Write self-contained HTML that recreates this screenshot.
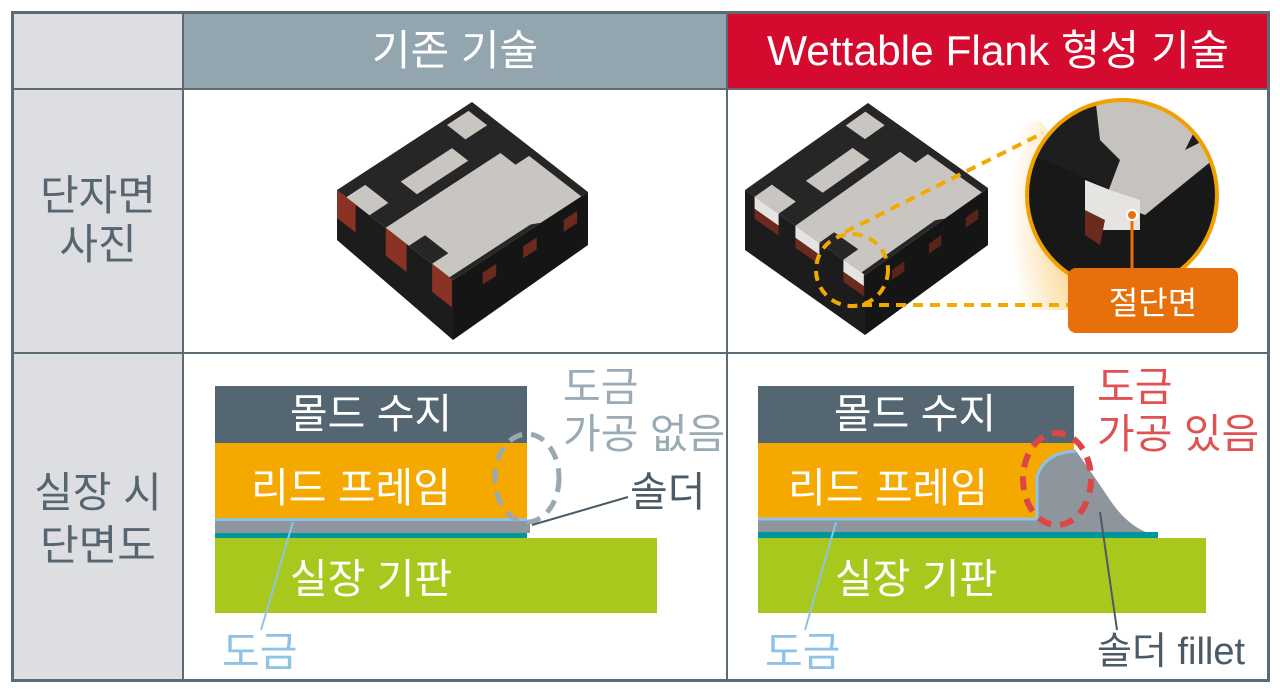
<!DOCTYPE html>
<html><head><meta charset="utf-8"><style>
body{margin:0;background:#fff;}
svg{display:block;}
text{font-family:"Liberation Sans","Noto Sans CJK KR",sans-serif;}
</style></head><body>
<svg width="1280" height="696" viewBox="0 0 1280 696">
<defs>
<radialGradient id="glow" cx="1" cy="0.5" r="1">
<stop offset="0" stop-color="#f5a300" stop-opacity="0.9"/>
<stop offset="1" stop-color="#f5a300" stop-opacity="0"/>
</radialGradient>
<clipPath id="cc"><circle cx="1122" cy="195" r="95"/></clipPath>
</defs>
<rect x="13" y="13" width="170" height="667" fill="#dcdee1"/>
<rect x="183" y="13" width="544" height="76" fill="#93a6b0"/>
<rect x="727" y="13" width="541" height="76" fill="#d40b2f"/>
<g stroke="#5a6b76" fill="none">
<rect x="12.5" y="12.5" width="1256" height="668" stroke-width="3"/>
<line x1="183" y1="13" x2="183" y2="680" stroke-width="2"/>
<line x1="727" y1="13" x2="727" y2="680" stroke-width="2"/>
<line x1="13" y1="89" x2="1268" y2="89" stroke-width="2"/>
<line x1="13" y1="353" x2="1268" y2="353" stroke-width="2"/>
</g>
<text x="455" y="65" font-size="42" fill="#fff" text-anchor="middle">기존 기술</text>
<text x="998" y="65" font-size="42" fill="#fff" text-anchor="middle" textLength="462" lengthAdjust="spacingAndGlyphs">Wettable Flank 형성 기술</text>
<g font-size="42" fill="#566570" text-anchor="middle">
<text x="98" y="210">단자면</text><text x="98" y="259">사진</text>
<text x="98" y="507">실장 시</text><text x="98" y="560">단면도</text>
</g>

<!-- left chip -->
<polygon points="337,190 453,280 453,340 337,240" fill="#1c1c1c"/>
<polygon points="453,280 588,192 588,245 453,340" fill="#151515"/>
<polygon points="337,190 472,102 588,192 453,280" fill="#262626"/>
<g transform="matrix(116 90 135 -88 337 190)" fill="#c9c6c1">
<polygon points="0.42,0 0.62,0 0.62,0.12 0.82,0.12 0.82,0 0.97,0 0.97,0.6 1,0.65 1,0.95 0.55,0.95 0.55,0.85 0.42,0.85"/>
<rect x="0.08" y="0" width="0.2" height="0.14"/>
<rect x="0.2" y="0.3" width="0.14" height="0.38"/>
<rect x="0.04" y="0.78" width="0.16" height="0.16"/>
</g>
<g transform="matrix(116 90 0 1 337 190)" fill="#8a3324">
<rect x="0.0" y="0" width="0.16" height="28"/>
<rect x="0.42" y="0" width="0.18" height="28"/>
<rect x="0.82" y="0" width="0.17" height="28"/>
</g>
<g transform="matrix(135 -88 0 1 453 280)" fill="#6a2a1e">
<rect x="0.22" y="12" width="0.1" height="12"/>
<rect x="0.52" y="12" width="0.1" height="12"/>
<rect x="0.82" y="12" width="0.1" height="12"/>
</g>

<!-- right chip -->
<polygon points="1010,130 1040,120 1100,200 1075,310 1010,310" fill="url(#glow)" opacity="0.8"/>
<polygon points="745,190 865,275 865,335 745,250" fill="#1c1c1c"/>
<polygon points="865,275 988,188 988,245 865,335" fill="#151515"/>
<polygon points="745,190 868,103 988,188 865,275" fill="#262626"/>
<g transform="matrix(120 85 123 -87 745 190)" fill="#c9c6c1">
<polygon points="0.42,0 0.62,0 0.62,0.12 0.82,0.12 0.82,0 0.97,0 0.97,0.6 1,0.65 1,0.95 0.55,0.95 0.55,0.85 0.42,0.85"/>
<rect x="0.08" y="0" width="0.2" height="0.14"/>
<rect x="0.2" y="0.3" width="0.14" height="0.38"/>
<rect x="0.04" y="0.78" width="0.16" height="0.16"/>
</g>
<g transform="matrix(120 85 0 1 745 190)">
<g fill="#e6e4e0"><rect x="0.08" y="0" width="0.2" height="12"/><rect x="0.42" y="0" width="0.2" height="12"/><rect x="0.82" y="0" width="0.17" height="12"/></g>
<g fill="#6a2a1e"><rect x="0.08" y="12" width="0.2" height="10"/><rect x="0.42" y="12" width="0.2" height="10"/><rect x="0.82" y="12" width="0.17" height="10"/></g>
</g>
<g transform="matrix(123 -87 0 1 865 275)" fill="#5a241a">
<rect x="0.22" y="14" width="0.1" height="10"/><rect x="0.52" y="14" width="0.1" height="10"/><rect x="0.82" y="14" width="0.1" height="10"/>
</g>
<g stroke="#f2a900" stroke-width="4" fill="none" stroke-dasharray="10,7">
<ellipse cx="852" cy="270" rx="36" ry="36"/>
<line x1="845" y1="232" x2="1043" y2="133"/>
<line x1="862" y1="305" x2="1075" y2="305"/>
</g>
<g clip-path="url(#cc)">
<rect x="1020" y="95" width="210" height="200" fill="#1e1e1e"/>
<polygon points="1020,150 1080,175 1150,210 1230,150 1230,300 1020,300" fill="#181818"/>
<polygon points="1095,95 1160,95 1200,120 1185,150 1215,135 1225,150 1145,215 1105,200 1120,160 1100,140" fill="#c6c3be"/>
<polygon points="1085,180 1110,190 1140,200 1140,230 1100,230 1085,215" fill="#e6e4e0"/>
<polygon points="1085,210 1105,220 1100,245 1085,235" fill="#6a2a1e"/>
</g>
<circle cx="1122" cy="195" r="95" fill="none" stroke="#f0a000" stroke-width="4"/>
<line x1="1132" y1="215" x2="1132" y2="270" stroke="#e8700a" stroke-width="3"/>
<circle cx="1132" cy="215" r="5" fill="#e8700a" stroke="#fff" stroke-width="2"/>
<rect x="1068" y="268" width="170" height="65" rx="8" fill="#e8700a"/>
<text x="1153" y="314" font-size="32" fill="#fff" text-anchor="middle">절단면</text>

<!-- left cross section -->
<rect x="215" y="386" width="312" height="57" fill="#536671"/>
<rect x="215" y="443" width="312" height="75" fill="#f5a800"/>
<rect x="215" y="518" width="312" height="3" fill="#8ec3e6"/>
<rect x="215" y="521" width="315" height="12" fill="#8e959c"/>
<rect x="215" y="533" width="312" height="5" fill="#00979c"/>
<rect x="215" y="538" width="442" height="75" fill="#a8c81e"/>
<g font-size="41" fill="#fff" text-anchor="middle">
<text x="371" y="428">몰드 수지</text><text x="351" y="502">리드 프레임</text><text x="371" y="593">실장 기판</text>
</g>
<ellipse cx="527" cy="478" rx="32" ry="44" fill="none" stroke="#9aa8b0" stroke-width="5" stroke-dasharray="14,9"/>
<line x1="293" y1="522" x2="261" y2="630" stroke="#8ec3e6" stroke-width="2"/>
<line x1="532" y1="525" x2="628" y2="497" stroke="#4b5a64" stroke-width="2"/>
<text x="222" y="666" font-size="41" fill="#8ec3e6">도금</text>
<g font-size="41" fill="#9aabb5"><text x="563" y="401">도금</text><text x="563" y="448">가공 없음</text></g>
<text x="630" y="506" font-size="41" fill="#4b5a64">솔더</text>

<!-- right cross section -->
<rect x="758" y="386" width="316" height="57" fill="#536671"/>
<rect x="758" y="443" width="316" height="75" fill="#f5a800"/>
<path d="M758,518 L1037,518 L1037,476 Q1045,455 1067,452 L1076,451 Q1090,470 1110,500 Q1130,530 1158,536 L758,536 Z" fill="#8e959c"/>
<path d="M758,519 L1037,519 L1037,476 Q1045,455 1067,452 L1076,451" fill="none" stroke="#8ec3e6" stroke-width="3"/>
<rect x="758" y="532" width="400" height="6" fill="#00979c"/>
<rect x="758" y="538" width="448" height="75" fill="#a8c81e"/>
<g font-size="41" fill="#fff" text-anchor="middle">
<text x="915" y="428">몰드 수지</text><text x="888" y="502">리드 프레임</text><text x="916" y="593">실장 기판</text>
</g>
<ellipse cx="1057" cy="479" rx="34" ry="46" fill="none" stroke="#dc4646" stroke-width="6" stroke-dasharray="14,9"/>
<line x1="836" y1="522" x2="805" y2="630" stroke="#8ec3e6" stroke-width="2"/>
<line x1="1100" y1="512" x2="1117" y2="630" stroke="#4b5a64" stroke-width="2"/>
<text x="765" y="666" font-size="41" fill="#8ec3e6">도금</text>
<g font-size="41" fill="#e05252"><text x="1097" y="401">도금</text><text x="1097" y="448">가공 있음</text></g>
<text x="1097" y="664" font-size="38" fill="#4b5a64">솔더 fillet</text>
</svg>
</body></html>
